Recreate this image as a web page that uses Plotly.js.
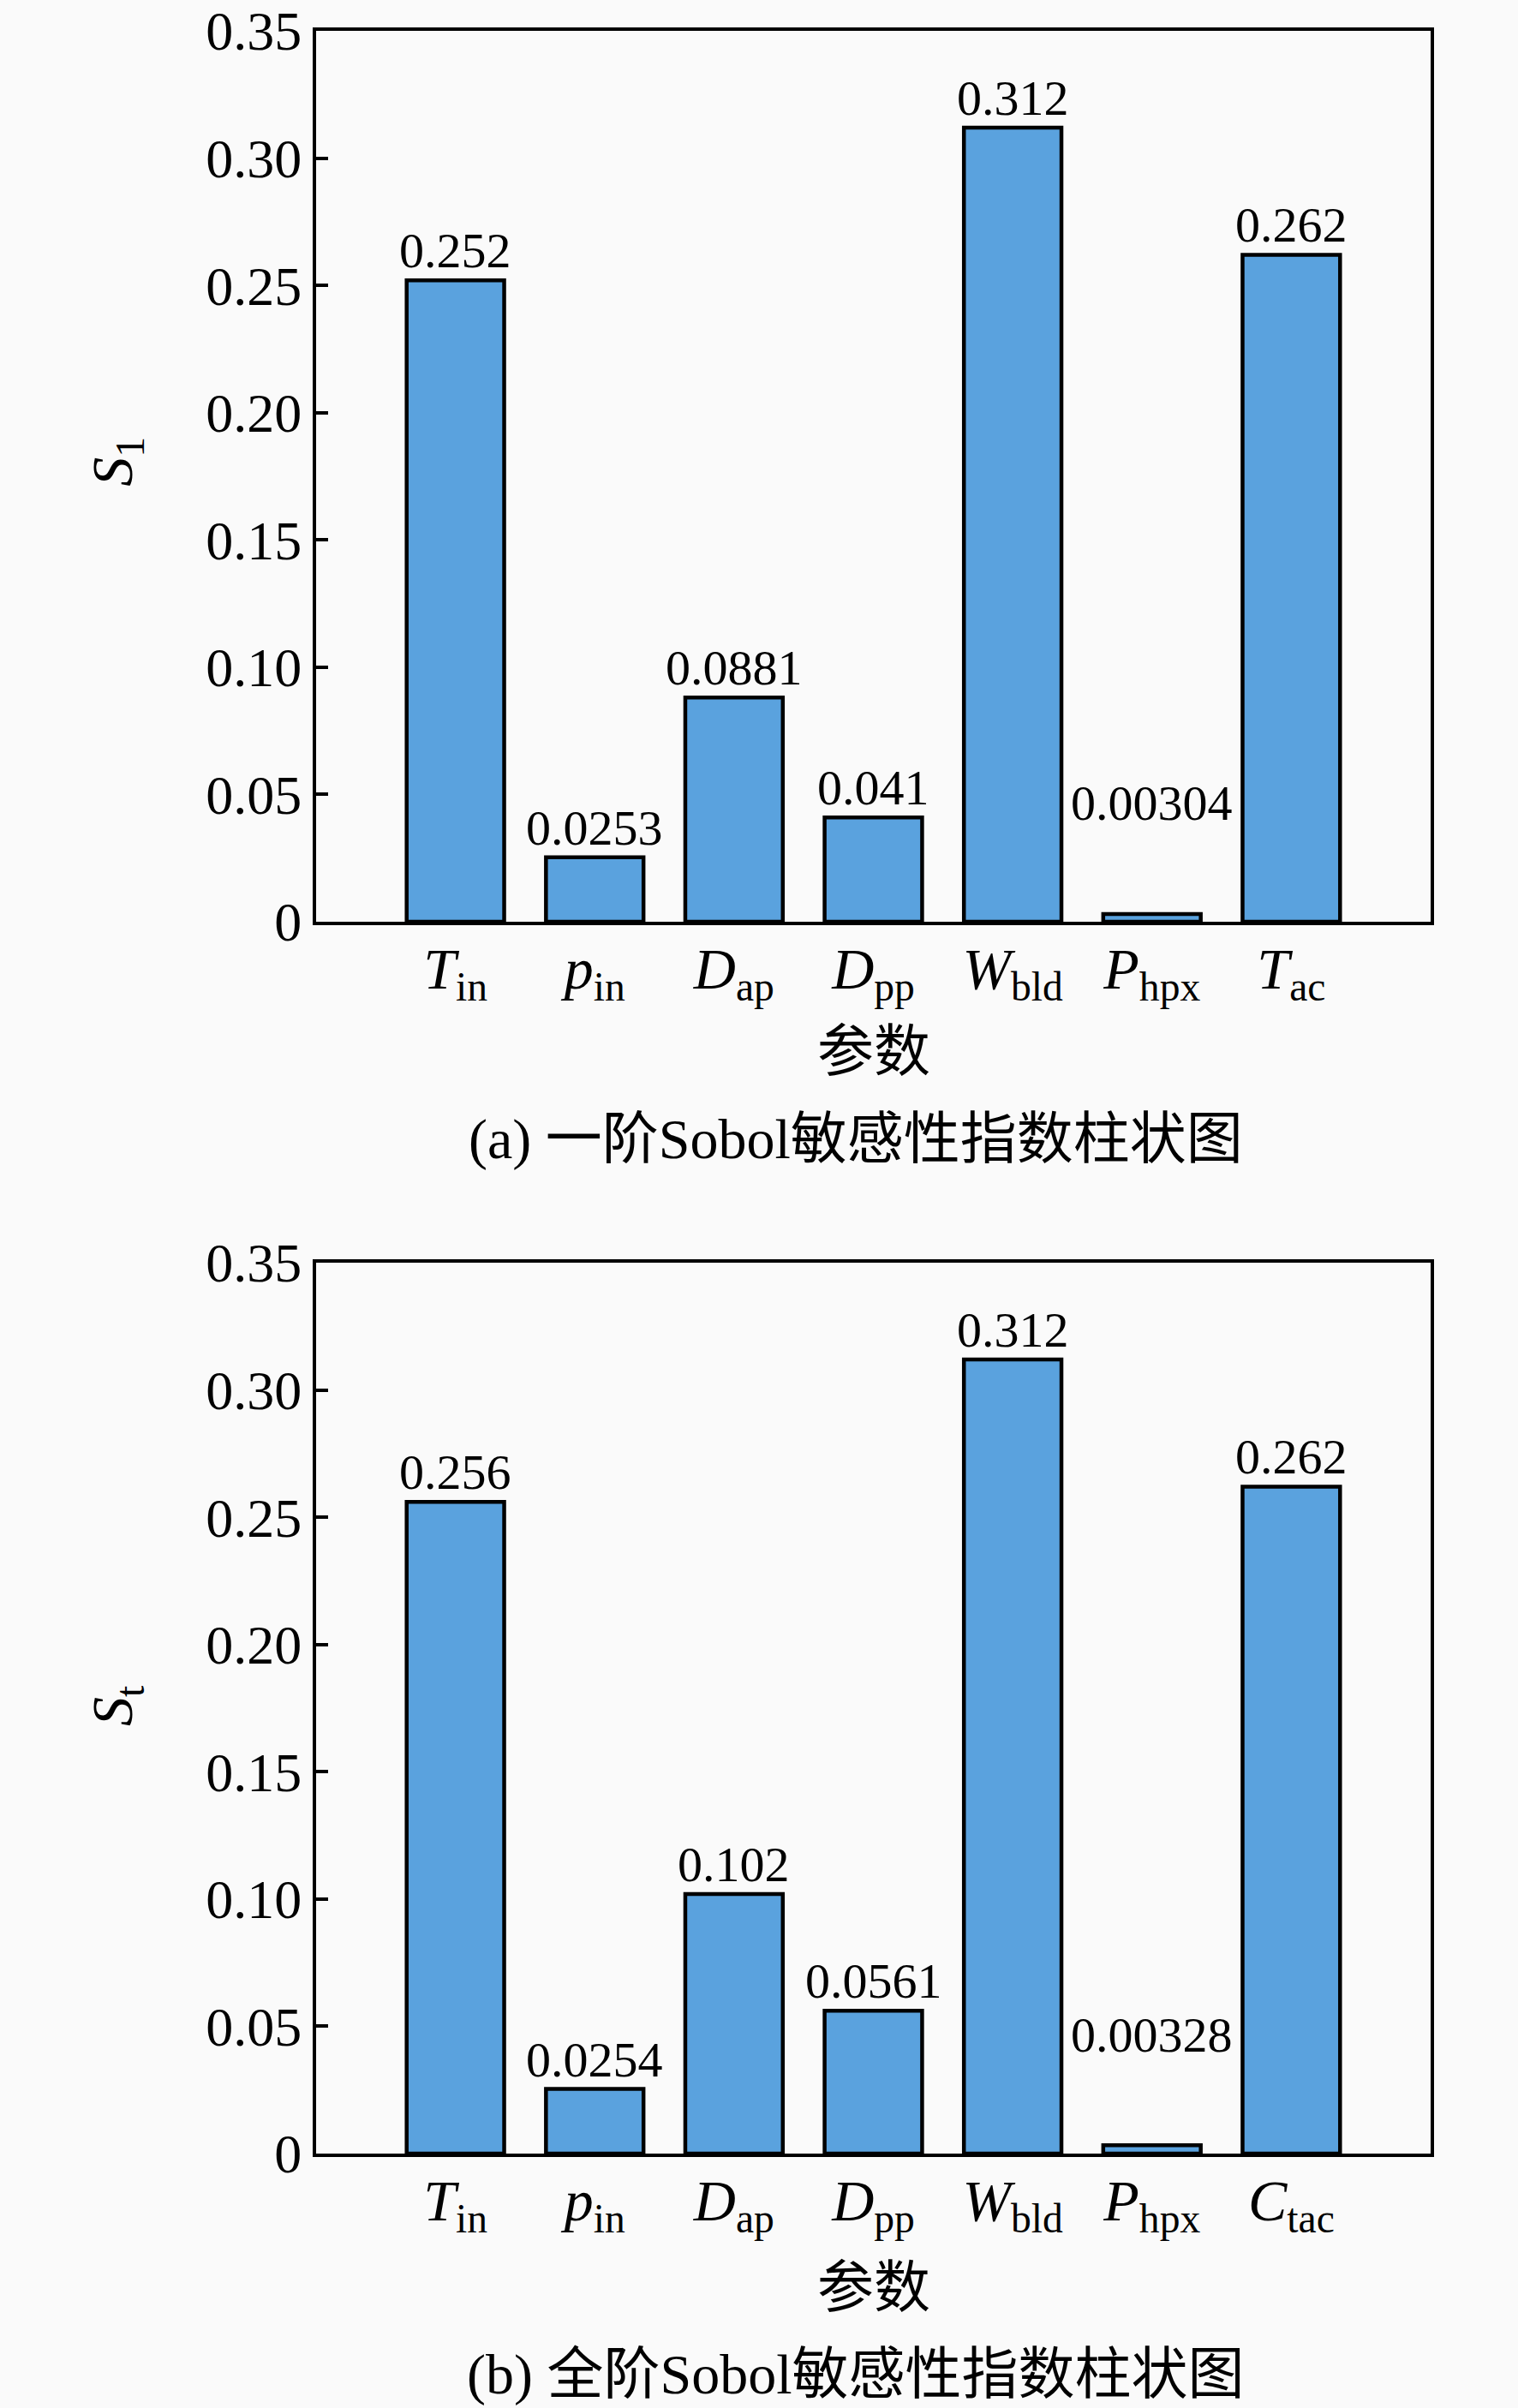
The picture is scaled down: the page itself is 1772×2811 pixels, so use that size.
<!DOCTYPE html>
<html>
<head>
<meta charset="utf-8">
<script src="https://cdn.plot.ly/plotly-3.0.1.min.js"></script>
<style>
  body { margin: 0; background: #fafafa; }
  #chart { width: 1772px; height: 2811px; }
</style>
</head>
<body>
<div id="chart"></div>
<script>
// 参数名称 (x轴)
var paramsA = ['<i>T</i><sub>in</sub>', '<i>p</i><sub>in</sub>', '<i>D</i><sub>ap</sub>', '<i>D</i><sub>pp</sub>',
               '<i>W</i><sub>bld</sub>', '<i>P</i><sub>hpx</sub>', '<i>T</i><sub>ac</sub>'];
var paramsB = ['<i>T</i><sub>in</sub>', '<i>p</i><sub>in</sub>', '<i>D</i><sub>ap</sub>', '<i>D</i><sub>pp</sub>',
               '<i>W</i><sub>bld</sub>', '<i>P</i><sub>hpx</sub>', '<i>C</i><sub>tac</sub>'];

// 一阶 / 全阶 Sobol 指数
var s1 = [0.252, 0.0253, 0.0881, 0.041, 0.312, 0.00304, 0.262];
var st = [0.256, 0.0254, 0.102, 0.0561, 0.312, 0.00328, 0.262];

// y轴刻度
var yTickVals = [0, 0.05, 0.10, 0.15, 0.20, 0.25, 0.30, 0.35];
var yTickText = ['0', '0.05', '0.10', '0.15', '0.20', '0.25', '0.30', '0.35'];

var serif = 'Liberation Serif, Times New Roman, Noto Sans CJK SC, serif';
var barColor = '#5aa2de';
var idx = s1.map(function (v, i) { return i; });

function barTrace(vals, xa, ya) {
    return {
        type: 'bar',
        x: idx,
        y: vals,
        width: 0.7,
        xaxis: xa,
        yaxis: ya,
        marker: { color: barColor, line: { color: 'black', width: 4.5 } },
        hoverinfo: 'none'
    };
}

// 数值标签 (很小的柱子, 标签抬高)
function valueLabels(vals, xa, ya) {
    return vals.map(function (v, i) {
        return {
            x: i, y: v < 0.01 ? 0.035 : v, xref: xa, yref: ya,
            text: String(v), showarrow: false,
            yanchor: 'bottom', yshift: 0,
            font: { family: serif, size: 58, color: 'black' }
        };
    });
}

function xAxis(labels, anchor) {
    return {
        anchor: anchor,
        range: [-1, 7],
        tickvals: idx,
        ticktext: labels,
        ticks: '',
        ticklabelstandoff: -8,
        showgrid: false,
        zeroline: false,
        showline: true, mirror: true, linecolor: 'black', linewidth: 4,
        tickfont: { family: serif, size: 68, color: 'black' },
        fixedrange: true
    };
}

function yAxis(domain, anchor) {
    return {
        anchor: anchor,
        domain: domain,
        range: [0, 0.35],
        tickvals: yTickVals,
        ticktext: yTickText,
        ticks: 'inside', ticklen: 14, tickwidth: 4, tickcolor: 'black',
        showgrid: false,
        zeroline: false,
        showline: true, mirror: true, linecolor: 'black', linewidth: 4,
        tickfont: { family: serif, size: 64, color: 'black' },
        fixedrange: true
    };
}

var textAnn = function (x, y, text, size, angle) {
    return {
        x: x, y: y, xref: 'paper', yref: 'paper', text: text, showarrow: false,
        textangle: angle || 0, xanchor: 'center', yanchor: 'middle',
        font: { family: serif, size: size, color: 'black' }
    };
};

var annotations = [].concat(
    valueLabels(s1, 'x', 'y'),
    valueLabels(st, 'x2', 'y2'),
    [
        textAnn(-0.18, 0.797, '<i>S</i><sub>1</sub>', 68, -90),
        textAnn(0.5, 0.519, '参数', 66),
        textAnn(0.484, 0.478, '(a) 一阶Sobol敏感性指数柱状图', 66),
        textAnn(-0.18, 0.211, '<i>S</i><sub>t</sub>', 68, -90),
        textAnn(0.5, -0.063, '参数', 66),
        textAnn(0.484, -0.104, '(b) 全阶Sobol敏感性指数柱状图', 66)
    ]
);

var layout = {
    width: 1772,
    height: 2811,
    margin: { t: 36, r: 102, l: 369, b: 297 },
    paper_bgcolor: '#fafafa',
    plot_bgcolor: '#fafafa',
    showlegend: false,
    font: { family: serif, color: 'black' },
    xaxis: xAxis(paramsA, 'y'),
    yaxis: yAxis([0.5803, 1], 'x'),
    xaxis2: xAxis(paramsB, 'y2'),
    yaxis2: yAxis([0, 0.4197], 'x2'),
    annotations: annotations
};

Plotly.newPlot('chart', [barTrace(s1, 'x', 'y'), barTrace(st, 'x2', 'y2')], layout, { displayModeBar: false, staticPlot: true });
</script>
</body>
</html>
